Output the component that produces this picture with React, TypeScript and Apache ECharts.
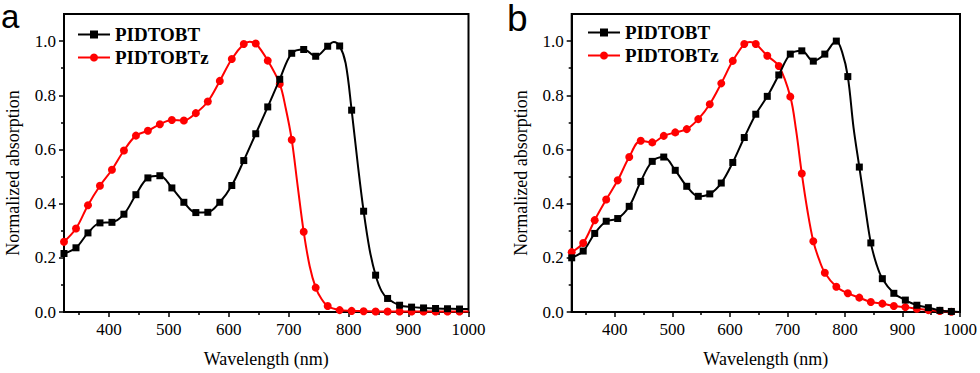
import React, { useEffect, useRef } from 'react';
import * as echarts from 'echarts';

// ---------- data ----------
const markerStart = 325; // markers every 20 nm from here

// panel a — PIDTOBT
const wlA1 = [325, 345, 365, 385, 405, 425, 445, 465, 485, 505, 525, 545, 565, 585, 605, 625, 645, 665, 685, 705, 725, 745, 765, 775, 785, 795, 805, 815, 825, 835, 845, 855, 865, 885, 905, 925, 945, 965, 985, 1000];
const absA1 = [0.216, 0.237, 0.292, 0.329, 0.331, 0.361, 0.433, 0.495, 0.503, 0.458, 0.405, 0.367, 0.368, 0.405, 0.467, 0.559, 0.658, 0.757, 0.859, 0.955, 0.969, 0.944, 0.981, 0.997, 0.982, 0.918, 0.745, 0.55, 0.372, 0.23, 0.136, 0.077, 0.05, 0.025, 0.018, 0.015, 0.013, 0.012, 0.011, 0.011];

// panel a — PIDTOBTz
const wlA2 = [325, 345, 365, 385, 405, 425, 445, 465, 485, 505, 525, 545, 565, 585, 605, 625, 635, 645, 665, 685, 695, 705, 715, 725, 735, 745, 755, 765, 785, 805, 825, 845, 865, 885, 905, 925, 945, 965, 985, 1000];
const absA2 = [0.259, 0.308, 0.394, 0.466, 0.525, 0.596, 0.651, 0.669, 0.693, 0.709, 0.707, 0.734, 0.777, 0.853, 0.934, 0.989, 0.998, 0.991, 0.928, 0.842, 0.752, 0.636, 0.464, 0.296, 0.169, 0.09, 0.047, 0.022, 0.007, 0.004, 0.003, 0.002, 0.002, 0.002, 0.002, 0.002, 0.002, 0.002, 0.002, 0.002];

// panel b — PIDTOBT
const wlB1 = [325, 345, 365, 385, 405, 425, 445, 465, 485, 505, 525, 545, 565, 585, 605, 625, 645, 665, 685, 705, 725, 745, 765, 785, 795, 805, 815, 825, 835, 845, 855, 865, 885, 905, 925, 945, 965, 985, 1000];
const absB1 = [0.2, 0.225, 0.29, 0.335, 0.345, 0.39, 0.482, 0.556, 0.572, 0.523, 0.464, 0.427, 0.436, 0.476, 0.552, 0.644, 0.73, 0.796, 0.875, 0.952, 0.964, 0.926, 0.952, 1.0, 0.96, 0.869, 0.68, 0.535, 0.39, 0.255, 0.175, 0.123, 0.069, 0.044, 0.025, 0.016, 0.006, 0.002, 0.0];

// panel b — PIDTOBTz
const wlB2 = [325, 345, 365, 385, 405, 425, 445, 465, 485, 505, 525, 545, 565, 585, 605, 625, 635, 645, 665, 685, 705, 715, 725, 735, 745, 755, 765, 785, 805, 825, 845, 865, 885, 905, 925, 945, 965, 985, 1000];
const absB2 = [0.221, 0.255, 0.339, 0.415, 0.486, 0.572, 0.632, 0.626, 0.65, 0.663, 0.675, 0.712, 0.767, 0.844, 0.927, 0.989, 0.997, 0.989, 0.946, 0.908, 0.795, 0.672, 0.511, 0.372, 0.261, 0.194, 0.145, 0.093, 0.069, 0.053, 0.037, 0.031, 0.022, 0.018, 0.012, 0.007, 0.004, 0.001, 0.0];

const seriesNames = ['PIDTOBT', 'PIDTOBTz'];
const xMajorTicks = [400, 500, 600, 700, 800, 900, 1000];
const xMinorTicks = [350, 450, 550, 650, 750, 850, 950];
const yMajorTicks = [0, 0.2, 0.4, 0.6, 0.8, 1.0];
const yMinorTicks = [0.1, 0.3, 0.5, 0.7, 0.9];
const panelLabels = ['a', 'b'];

// ---------- styling ----------
const SERIF = "'Liberation Serif', 'Times New Roman', serif";
const BLACK = '#000000';
const RED = '#ff0000';

const grids = [
  { left: 64, top: 14, width: 404.5, height: 298.7 },
  { left: 571.7, top: 14, width: 405, height: 298.7 },
];

function toData(wl: number[], abs: number[]) {
  return wl.map((w, i) => ({
    value: [w, abs[i]],
    symbol: (w - markerStart) % 20 === 0 ? undefined : 'none',
  }));
}

function buildOption() {
  const xAxis: any[] = [];
  const yAxis: any[] = [];
  grids.forEach((_, g) => {
    xAxis.push({
      type: 'value', gridIndex: g, min: 325, max: 1000,
      name: 'Wavelength (nm)', nameLocation: 'middle', nameGap: 38,
      nameTextStyle: { fontFamily: SERIF, fontSize: 18, color: BLACK },
      axisLine: { show: true, lineStyle: { color: BLACK, width: 2 } },
      axisTick: { show: true, inside: false, length: 5, customValues: xMajorTicks, lineStyle: { color: BLACK, width: 1.5 } },
      axisLabel: { show: true, customValues: xMajorTicks, margin: 9, fontFamily: SERIF, fontSize: 17, color: BLACK, formatter: (v: number) => String(v) },
      splitLine: { show: false },
    });
    xAxis.push({
      type: 'value', gridIndex: g, min: 325, max: 1000, position: 'bottom',
      axisLine: { show: false },
      axisTick: { show: true, inside: false, length: 3, customValues: xMinorTicks, lineStyle: { color: BLACK, width: 1.5 } },
      axisLabel: { show: false },
      splitLine: { show: false },
    });
    yAxis.push({
      type: 'value', gridIndex: g, min: 0, max: 1.1,
      name: 'Normalized absorption', nameLocation: 'middle', nameGap: 42,
      nameTextStyle: { fontFamily: SERIF, fontSize: 18, color: BLACK, padding: [0, 20, 0, 0] },
      axisLine: { show: true, lineStyle: { color: BLACK, width: 2 } },
      axisTick: { show: true, inside: false, length: 5, customValues: yMajorTicks, lineStyle: { color: BLACK, width: 1.5 } },
      axisLabel: { show: true, customValues: yMajorTicks, margin: 8, fontFamily: SERIF, fontSize: 17, color: BLACK, formatter: (v: number) => v.toFixed(1) },
      splitLine: { show: false },
    });
    yAxis.push({
      type: 'value', gridIndex: g, min: 0, max: 1.1, position: 'left',
      axisLine: { show: false },
      axisTick: { show: true, inside: false, length: 3, customValues: yMinorTicks, lineStyle: { color: BLACK, width: 1.5 } },
      axisLabel: { show: false },
      splitLine: { show: false },
    });
  });

  const mk = (name: string, g: number, wl: number[], abs: number[], color: string, symbol: string, size: number) => ({
    type: 'line', name, xAxisIndex: g * 2, yAxisIndex: g * 2,
    data: toData(wl, abs), smooth: 0.35, symbol, symbolSize: size, showAllSymbol: true,
    lineStyle: { color, width: 2 }, itemStyle: { color, borderWidth: 0 },
    emphasis: { disabled: true }, z: color === BLACK ? 3 : 2,
  });

  const series = [
    mk(seriesNames[0], 0, wlA1, absA1, BLACK, 'rect', 7),
    mk(seriesNames[1], 0, wlA2, absA2, RED, 'circle', 8),
    mk(seriesNames[0], 1, wlB1, absB1, BLACK, 'rect', 7),
    mk(seriesNames[1], 1, wlB2, absB2, RED, 'circle', 8),
  ];

  const legendBase = {
    orient: 'vertical', padding: 0, itemWidth: 32, itemHeight: 10, itemGap: 4,
    selectedMode: false,
    textStyle: { fontFamily: SERIF, fontWeight: 'bold', fontSize: 19, color: BLACK },
    data: seriesNames,
  };

  return {
    animation: false,
    backgroundColor: '#ffffff',
    grid: grids.map((g) => ({ ...g, show: true, borderColor: BLACK, borderWidth: 2, backgroundColor: 'transparent' })),
    xAxis, yAxis, series,
    legend: [
      { ...legendBase, left: 77, top: 25 },
      { ...legendBase, left: 587, top: 23 },
    ],
    graphic: [
      { type: 'text', left: 1, top: 0, style: { text: panelLabels[0], font: "33px 'Liberation Sans', Arial, sans-serif", lineHeight: 12, fill: BLACK } },
      { type: 'text', left: 507, top: 0, style: { text: panelLabels[1], font: "37px 'Liberation Sans', Arial, sans-serif", lineHeight: 33, fill: BLACK } },
    ],
  };
}

export default function App() {
  const ref = useRef<HTMLDivElement>(null);
  useEffect(() => {
    const chart = echarts.init(ref.current!, null, { renderer: 'svg' });
    chart.setOption(buildOption() as any);
    return () => chart.dispose();
  }, []);
  return <div ref={ref} style={{ position: 'absolute', left: 0, top: 0, width: 980, height: 373 }} />;
}
